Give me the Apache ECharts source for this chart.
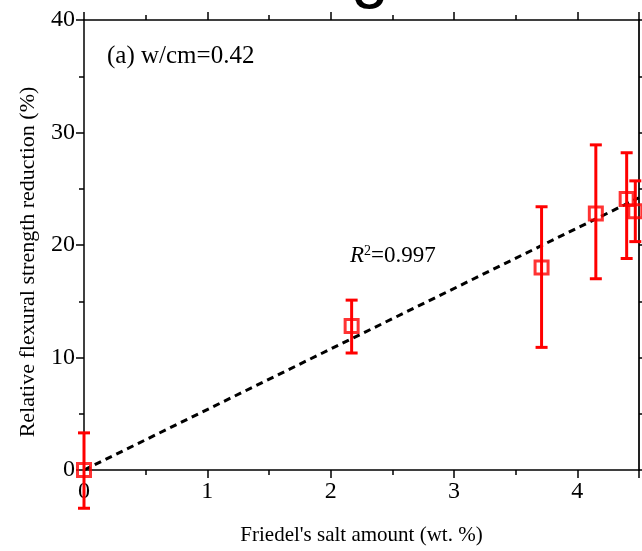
<!DOCTYPE html>
<html>
<head>
<meta charset="utf-8">
<script src="https://cdn.jsdelivr.net/npm/echarts@6/dist/echarts.min.js"></script>
<style>
  html, body { margin: 0; padding: 0; background: #fff; }
  #chart { width: 642px; height: 551px; }
</style>
</head>
<body>
<div id="chart"></div>
<script>
// Friedel's salt content (wt. %) of each mix
const saltAmount = [0, 2.17, 3.71, 4.15, 4.40, 4.47];
// Relative flexural strength reduction (%)
const strengthReduction = [0, 12.8, 18.0, 22.8, 24.1, 23.0];
// Error bar bounds (%)
const errLow = [-3.4, 10.4, 10.9, 17.0, 18.8, 20.3];
const errHigh = [3.3, 15.1, 23.4, 28.9, 28.2, 25.7];
// Linear fit end points
const fitX = [0, 4.5];
const fitY = [0, 24.2];
// Axis tick labels
const xTicks = ['0', '1', '2', '3', '4'];
const yTicks = ['0', '10', '20', '30', '40'];

const SERIF = "'Liberation Serif', 'Times New Roman', serif";
const RED = '#ff0000';

const points = saltAmount.map((x, i) => [x, strengthReduction[i]]);
const bars = saltAmount.map((x, i) => [x, errLow[i], errHigh[i]]);
const fitLine = fitX.map((x, i) => [x, fitY[i]]);

const chart = echarts.init(document.getElementById('chart'), null, { renderer: 'canvas' });

const axisLine = { show: true, onZero: false, lineStyle: { color: '#000', width: 1.5 } };
const tick = { show: true, inside: false, length: 8, lineStyle: { color: '#000', width: 1.5 } };
const minor = { show: true, splitNumber: 2, length: 5, lineStyle: { color: '#000', width: 1.5 } };

chart.setOption({
  animation: false,
  backgroundColor: '#fff',
  grid: { left: 84, right: 2, top: 20, bottom: 81, containLabel: false },
  graphic: [
    { type: 'text', x: 370, y: -24, style: { text: 'g', font: '68px "Liberation Sans", Arial, sans-serif', fill: '#000', textAlign: 'center', textVerticalAlign: 'middle' }, z: 10 },
    { type: 'text', x: 107, y: 56, style: { text: '(a) w/cm=0.42', font: '25px ' + SERIF, fill: '#000', textAlign: 'left', textVerticalAlign: 'middle' }, z: 10 },
    { type: 'text', x: 350, y: 256, style: {
        text: '{i|R}{s|2}{n|=0.997}',
        textAlign: 'left', textVerticalAlign: 'middle',
        rich: {
          i: { fontFamily: SERIF, fontSize: 23, fontStyle: 'italic', fill: '#000' },
          s: { fontFamily: SERIF, fontSize: 14, fill: '#000', verticalAlign: 'top', padding: [0, 0, 8, 0] },
          n: { fontFamily: SERIF, fontSize: 23, fill: '#000' }
        }
      }, z: 10 },
    { type: 'text', x: 28, y: 262, rotation: Math.PI / 2, style: {
        text: 'Relative flexural strength reduction (%)', font: '22px ' + SERIF, fill: '#000',
        textAlign: 'center', textVerticalAlign: 'middle' }, z: 10 }
  ],
  xAxis: [
    {
      type: 'value', position: 'bottom', min: 0, max: 4.5, interval: 1,
      name: "Friedel's salt amount (wt. %)", nameLocation: 'middle', nameGap: 55,
      nameTextStyle: { fontFamily: SERIF, fontSize: 21, color: '#000' },
      axisLine: axisLine, axisTick: tick, minorTick: minor,
      axisLabel: {
        margin: 10, fontFamily: SERIF, fontSize: 24, color: '#000',
        formatter: v => Math.abs(v - Math.round(v)) < 1e-6 && xTicks[Math.round(v)] !== undefined ? xTicks[Math.round(v)] : ''
      },
      splitLine: { show: false }
    },
    {
      type: 'value', position: 'top', min: 0, max: 4.5, interval: 1,
      axisLine: axisLine, axisTick: tick, minorTick: minor,
      axisLabel: { show: false },
      splitLine: { show: false }
    }
  ],
  yAxis: [
    {
      type: 'value', position: 'left', min: 0, max: 40, interval: 10,
      axisLine: axisLine, axisTick: tick, minorTick: minor,
      axisLabel: {
        margin: 9, fontFamily: SERIF, fontSize: 24, color: '#000',
        formatter: v => yTicks[Math.round(v / 10)]
      },
      splitLine: { show: false }
    },
    {
      type: 'value', position: 'right', min: 0, max: 40, interval: 10,
      axisLine: { show: true, onZero: false, lineStyle: { color: '#222', width: 2 } },
      axisTick: tick, minorTick: minor,
      axisLabel: { show: false },
      splitLine: { show: false }
    }
  ],
  series: [
    {
      name: 'fit', type: 'line', data: fitLine, xAxisIndex: 0, yAxisIndex: 0,
      symbol: 'none', silent: true, z: 3,
      lineStyle: { color: '#000', width: 3, type: [7, 5] }
    },
    {
      name: 'error', type: 'custom', data: bars, xAxisIndex: 0, yAxisIndex: 0,
      clip: false, z: 4,
      renderItem: function (params, api) {
        const x = api.value(0);
        const lo = api.coord([x, api.value(1)]);
        const hi = api.coord([x, api.value(2)]);
        const half = 6;
        const style = { stroke: RED, lineWidth: 3, fill: null };
        return {
          type: 'group',
          children: [
            { type: 'line', shape: { x1: lo[0], y1: lo[1], x2: hi[0], y2: hi[1] }, style: style },
            { type: 'line', shape: { x1: lo[0] - half, y1: lo[1], x2: lo[0] + half, y2: lo[1] }, style: style },
            { type: 'line', shape: { x1: hi[0] - half, y1: hi[1], x2: hi[0] + half, y2: hi[1] }, style: style }
          ]
        };
      }
    },
    {
      name: 'data', type: 'scatter', data: points, xAxisIndex: 0, yAxisIndex: 0,
      clip: false, z: 5,
      symbol: 'rect', symbolSize: 13,
      itemStyle: { color: 'rgba(0,0,0,0)', borderColor: RED, borderWidth: 3 }
    }
  ]
});
</script>
</body>
</html>
